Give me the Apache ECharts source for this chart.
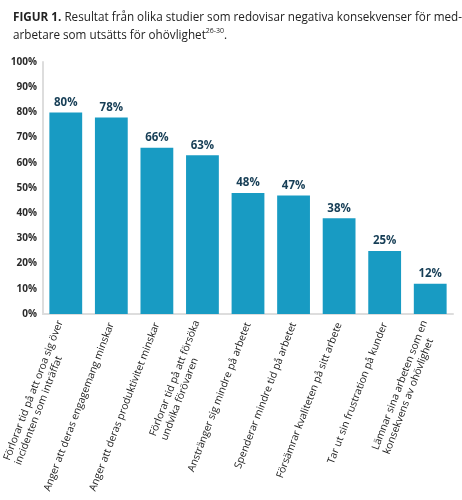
<!DOCTYPE html>
<html>
<head>
<meta charset="utf-8">
<script src="https://cdn.jsdelivr.net/npm/echarts@6/dist/echarts.min.js"></script>
<style>
html,body{margin:0;padding:0;background:#fff;}
#chart{width:462px;height:500px;}
</style>
</head>
<body>
<div id="chart"></div>
<script>
// kategorier (x-axel)
var categories = [
    'Förlorar tid på att oroa sig över\nincidenten som inträffat',
    'Anger att deras engagemang minskar',
    'Anger att deras produktivitet minskar',
    'Förlorar tid på att försöka\nundvika förövaren',
    'Anstränger sig mindre på arbetet',
    'Spenderar mindre tid på arbetet',
    'Försämrar kvaliteten på sitt arbete',
    'Tar ut sin frustration på kunder',
    'Lämnar sina arbeten som en\nkonsekvens av ohövlighet'
];
// andel i procent
var values = [80, 78, 66, 63, 48, 47, 38, 25, 12];
var yTicks = [0, 10, 20, 30, 40, 50, 60, 70, 80, 90, 100];

var chart = echarts.init(document.getElementById('chart'));

//radbrytning -> vänsterställda rader i roterad etikett
function catLabel(v) {
    return v.split('\n').map(function(s){ return '{a|' + s + '}'; }).join('\n');
}

var option = {
    animation: false,
    title: {
        left: 8,
        top: 4,
        text: '{b|FIGUR 1.} Resultat från olika studier som redovisar negativa konsekvenser för med-\narbetare som utsätts för ohövlighet{s|26-30}.',
        textStyle: {
            fontFamily: 'Open Sans',
            fontSize: 11.7,
            fontWeight: 'normal',
            color: '#222',
            lineHeight: 18,
            rich: {
                b: { fontFamily: 'Open Sans', fontWeight: 'bold', fontSize: 11.7, color: '#222' },
                s: { fontFamily: 'Open Sans', fontSize: 7, color: '#222', verticalAlign: 'top', lineHeight: 18, padding: [0, 0, 6, 0] }
            }
        }
    },
    grid: { left: 43, right: 9, top: 62, bottom: 186, outerBoundsMode: 'none', containLabel: false },
    xAxis: {
        type: 'category',
        data: categories,
        axisLine: { show: true, lineStyle: { color: '#dddddd', width: 2 } },
        axisTick: { show: false },
        axisLabel: {
            interval: 0,
            rotate: 69,
            margin: 9,
            fontFamily: 'Open Sans',
            fontSize: 10.3,
            color: '#1a1a1a',
            formatter: catLabel,
            rich: { a: { align: 'left', fontFamily: 'Open Sans', fontSize: 10.3, color: '#1a1a1a', lineHeight: 12 } }
        }
    },
    yAxis: {
        type: 'value',
        min: yTicks[0],
        max: yTicks[yTicks.length - 1],
        interval: 10,
        axisLine: { show: true, lineStyle: { color: '#dddddd', width: 2 } },
        axisTick: { show: false },
        splitLine: { show: false },
        axisLabel: {
            margin: 6,
            fontFamily: 'Open Sans',
            fontWeight: 'bold',
            fontSize: 10,
            color: '#2a2a2a',
            formatter: '{value}%'
        }
    },
    series: [{
        type: 'bar',
        data: values,
        barCategoryGap: '28%',
        itemStyle: { color: '#189bc3' },
        label: {
            show: true,
            position: 'top',
            distance: 4,
            fontFamily: 'Open Sans',
            fontWeight: 'bold',
            fontSize: 11.5,
            color: '#163e56',
            formatter: '{c}%'
        }
    }]
};
chart.setOption(option);
</script>
</body>
</html>
